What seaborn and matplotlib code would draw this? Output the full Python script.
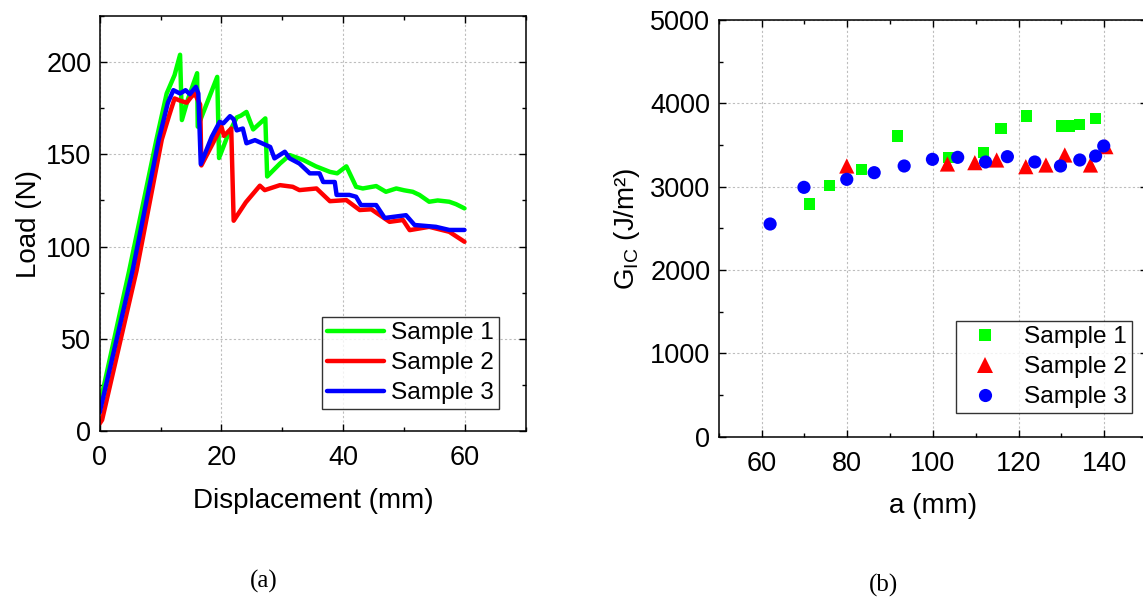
import numpy as np
import pandas as pd
import matplotlib
matplotlib.use("Agg")
import matplotlib.pyplot as plt
from matplotlib.ticker import MultipleLocator
import seaborn as sns

# ---------------- data: panel (a) load-displacement ----------------
s1_disp = [0, 4.85, 9.3, 11.0, 12.3, 13.2, 13.5, 14.5, 16.0, 16.1, 19.3, 19.6, 21.0, 22.5, 23.2, 24.1,
           25.2, 27.2, 27.5, 29.6, 31.2, 33.4, 35.5, 37.8, 39.0, 40.5, 41.3, 42.1, 43.2, 45.4, 47.0,
           48.7, 50.0, 51.4, 52.5, 54.1, 55.5, 57.4, 58.5, 59.9]
s1_load = [14, 87, 157.7, 183, 193, 204, 168.6, 180, 194, 165, 192, 148, 160, 170, 171, 173,
           163.5, 169.5, 138, 145, 149.6, 147, 143.5, 140.5, 139.7, 143.5, 138, 132.4, 131.5, 132.8, 129.7,
           131.5, 130.5, 129.7, 128, 124.3, 125, 124.3, 123, 120.7]

s2_disp = [0, 0.4, 6.06, 10.2, 11.4, 12.3, 13.3, 14.3, 15.0, 15.6, 16.5, 16.7, 20.0, 20.4, 21.6, 22.0,
           24.0, 26.3, 27.1, 29.6, 31.7, 32.8, 35.6, 37.8, 40.5, 42.7, 44.6, 47.6, 49.8, 50.9, 54.1,
           57.4, 59.9]
s2_load = [4, 6, 87, 158, 171, 180.3, 179, 178, 181, 183, 177, 144, 165, 160, 164, 114,
           124, 133, 130.6, 133.3, 132.4, 130.6, 131.5, 124.6, 125.2, 119.8, 120.2, 113.4, 114.4, 108.9, 110.7,
           108, 102.6]

s3_disp = [0, 5.4, 9.7, 11.2, 12.1, 13.2, 14.1, 14.8, 15.8, 16.2, 16.6, 18.4, 19.7, 20.3, 21.4, 22.0,
           22.5, 23.5, 24.1, 25.5, 28.0, 28.7, 30.4, 31.2, 32.8, 34.5, 36.1, 36.7, 38.6, 38.9, 41.0,
           42.1, 42.9, 45.4, 46.8, 50.3, 51.7, 55.2, 57.4, 59.9]
s3_load = [10, 87, 158, 178, 184.8, 183, 184.8, 182.6, 186.6, 183, 144.7, 159.5, 167.6, 166.8, 170.7, 169,
           163, 164, 156, 157.7, 154, 147.8, 151.4, 147.8, 145, 139.7, 139.7, 135, 135, 128, 128,
           127, 122.5, 122.5, 115.5, 117, 111.7, 110.7, 109, 109]

# ---------------- data: panel (b) G_IC vs crack length ----------------
s1_a = [71.3, 75.8, 83.4, 91.8, 103.7, 111.9, 115.9, 121.9, 130.0, 132.0, 134.3, 137.9]
s1_g = [2792, 3017, 3208, 3608, 3353, 3408, 3696, 3848, 3728, 3728, 3744, 3816]
s2_a = [79.9, 103.4, 109.8, 114.9, 121.7, 126.4, 130.8, 136.8, 140.4]
s2_g = [3248, 3272, 3288, 3320, 3240, 3260, 3380, 3260, 3480]
s3_a = [62.0, 69.9, 79.9, 86.3, 93.3, 99.9, 105.8, 112.3, 117.4, 123.8, 129.8, 134.3, 138.0, 139.9]
s3_g = [2552, 2992, 3088, 3168, 3248, 3328, 3352, 3296, 3360, 3296, 3248, 3320, 3368, 3488]

labels = ["Sample 1", "Sample 2", "Sample 3"]
colors = {"Sample 1": "#00ff00", "Sample 2": "#ff0000", "Sample 3": "#0000ff"}

df_line = pd.concat([
    pd.DataFrame({"disp": s1_disp, "load": s1_load, "sample": labels[0]}),
    pd.DataFrame({"disp": s2_disp, "load": s2_load, "sample": labels[1]}),
    pd.DataFrame({"disp": s3_disp, "load": s3_load, "sample": labels[2]}),
], ignore_index=True)

df_pts = pd.concat([
    pd.DataFrame({"a": s1_a, "g": s1_g, "sample": labels[0]}),
    pd.DataFrame({"a": s2_a, "g": s2_g, "sample": labels[1]}),
    pd.DataFrame({"a": s3_a, "g": s3_g, "sample": labels[2]}),
], ignore_index=True)

# ---------------- style ----------------
sns.set_style("white")
plt.rcParams["font.family"] = ["Liberation Sans", "DejaVu Sans"]
plt.rcParams["mathtext.fontset"] = "custom"
plt.rcParams["mathtext.rm"] = "Liberation Sans"
plt.rcParams.update({
    "xtick.direction": "in", "ytick.direction": "in",
    "xtick.top": True, "ytick.right": True,
    "xtick.bottom": True, "ytick.left": True,
    "xtick.major.size": 5, "ytick.major.size": 5,
    "xtick.minor.size": 3, "ytick.minor.size": 3,
    "xtick.major.width": 1.0, "ytick.major.width": 1.0,
    "xtick.minor.width": 1.0, "ytick.minor.width": 1.0,
    "axes.linewidth": 1.1, "axes.edgecolor": "black",
    "xtick.color": "black", "ytick.color": "black",
    "text.color": "black", "axes.labelcolor": "black",
})

TICK_FS = 19.5
LABEL_FS = 20
LEG_FS = 17.6

fig = plt.figure(figsize=(11.43, 5.98), dpi=100)
ax1 = fig.add_axes([0.0872, 0.2793, 0.3730, 0.6939])
ax2 = fig.add_axes([0.6288, 0.2697, 0.3747, 0.6969])

grid_kw = dict(color="#bdbdbd", linestyle=(0, (2, 2)), linewidth=0.8)

# ---------------- panel (a) ----------------
sns.lineplot(data=df_line, x="disp", y="load", hue="sample", palette=colors,
             estimator=None, sort=False, linewidth=3.2, ax=ax1)
ax1.set_xlim(0, 70)
ax1.set_ylim(0, 225)
ax1.xaxis.set_major_locator(MultipleLocator(20))
ax1.xaxis.set_minor_locator(MultipleLocator(10))
ax1.yaxis.set_major_locator(MultipleLocator(50))
ax1.yaxis.set_minor_locator(MultipleLocator(25))
ax1.grid(True, which="major", **grid_kw)
ax1.set_axisbelow(True)
ax1.set_xlabel("Displacement (mm)", fontsize=LABEL_FS, labelpad=12)
ax1.set_ylabel("Load (N)", fontsize=LABEL_FS, labelpad=3)
ax1.tick_params(axis="x", which="major", labelsize=TICK_FS, pad=10)
ax1.tick_params(axis="y", which="major", labelsize=TICK_FS, pad=6)
leg1 = ax1.legend(loc="lower right", bbox_to_anchor=(0.937, 0.053), borderaxespad=0,
                  fontsize=LEG_FS, frameon=True, fancybox=False, edgecolor="black",
                  handlelength=2.35, handletextpad=0.3, labelspacing=0.32, borderpad=0.2)
leg1.get_frame().set_linewidth(1.0)
for h in leg1.get_lines():
    h.set_linewidth(3.2)

# ---------------- panel (b) ----------------
sns.scatterplot(data=df_pts, x="a", y="g", hue="sample", style="sample", size="sample",
                palette=colors, markers={"Sample 1": "s", "Sample 2": "^", "Sample 3": "o"},
                sizes={"Sample 1": 64, "Sample 2": 120, "Sample 3": 90},
                linewidth=0, ax=ax2)
ax2.set_xlim(50, 150)
ax2.set_ylim(0, 5000)
ax2.xaxis.set_major_locator(MultipleLocator(20))
ax2.xaxis.set_minor_locator(MultipleLocator(10))
ax2.yaxis.set_major_locator(MultipleLocator(1000))
ax2.yaxis.set_minor_locator(MultipleLocator(500))
ax2.grid(True, which="major", **grid_kw)
ax2.set_axisbelow(True)
ax2.set_xlabel("a (mm)", fontsize=LABEL_FS, labelpad=12)
ax2.set_ylabel("G$_\\mathregular{IC}$ (J/m²)", fontsize=LABEL_FS, labelpad=6)
ax2.tick_params(axis="x", which="major", labelsize=TICK_FS, pad=10)
ax2.tick_params(axis="y", which="major", labelsize=TICK_FS, pad=6)
leg2 = ax2.legend(loc="lower right", bbox_to_anchor=(0.965, 0.057), borderaxespad=0,
                  fontsize=LEG_FS, frameon=True, fancybox=False, edgecolor="black",
                  handlelength=2.0, handletextpad=0.6, labelspacing=0.32, borderpad=0.2)
leg2.get_frame().set_linewidth(1.0)

for ax in (ax1, ax2):
    for sp in ax.spines.values():
        sp.set_visible(True)
        sp.set_color("black")

# captions
fig.text(264 / 1143, 1 - 581 / 598, "(a)", ha="center", va="center",
         family=["Liberation Serif", "DejaVu Serif"], fontsize=18)
fig.text(883 / 1143, 1 - 585 / 598, "(b)", ha="center", va="center",
         family=["Liberation Serif", "DejaVu Serif"], fontsize=18)

fig.savefig("out.png", dpi=100)
